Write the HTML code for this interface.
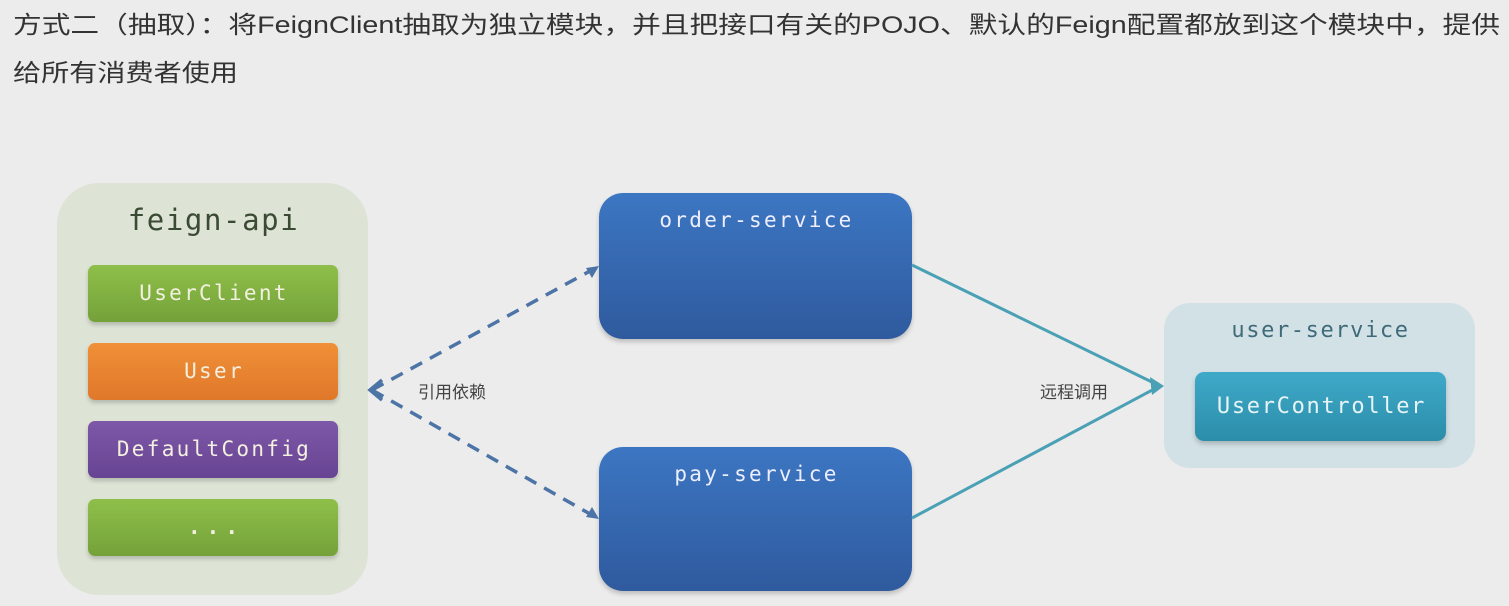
<!DOCTYPE html>
<html><head><meta charset="utf-8"><style>
html,body{margin:0;padding:0;background:#ececec;}
body{width:1509px;height:606px;overflow:hidden;position:relative;font-family:"Liberation Sans","Noto Sans CJK SC",sans-serif;}
.b{position:absolute;box-sizing:border-box;}
.m{font-family:"DejaVu Sans Mono","Liberation Mono",monospace;text-align:center;}
.item{position:absolute;left:88px;width:250px;height:57px;border-radius:7px;color:#f3f0e0;font-size:21px;line-height:57px;letter-spacing:2.3px;padding-left:2px;box-sizing:border-box;box-shadow:0 3px 4px rgba(0,0,0,0.18);}
</style></head><body>
<svg class="b" style="left:0;top:0" width="1509" height="606">
<text x="13" y="33" font-size="24" fill="#333" textLength="1487" lengthAdjust="spacingAndGlyphs" font-family="Liberation Sans, Noto Sans CJK SC, sans-serif">方式二（抽取）：将FeignClient抽取为独立模块，并且把接口有关的POJO、默认的Feign配置都放到这个模块中，提供</text>
<text x="13" y="81" font-size="24" fill="#333" textLength="225" lengthAdjust="spacingAndGlyphs" font-family="Liberation Sans, Noto Sans CJK SC, sans-serif">给所有消费者使用</text>
</svg>
<div class="b" style="left:57px;top:183px;width:311px;height:412px;border-radius:42px;background:#dde3d5;"></div>
<div class="b m" style="left:57px;top:203px;width:311px;font-size:29px;color:#3a4a33;letter-spacing:1.6px;padding-left:2px;">feign-api</div>
<div class="item m" style="top:265px;background:linear-gradient(#8fbf4a,#74a23a);">UserClient</div>
<div class="item m" style="top:343px;background:linear-gradient(#f09038,#e0782a);">User</div>
<div class="item m" style="top:421px;background:linear-gradient(#7e58a8,#674493);">DefaultConfig</div>
<div class="item m" style="top:499px;background:linear-gradient(#8fbf4a,#74a23a);font-weight:bold;letter-spacing:6px;padding-left:6px;">...</div>

<div class="b m" style="left:599px;top:193px;width:313px;height:146px;border-radius:24px;background:linear-gradient(#3c76c2,#2f5a9e);color:#eef;font-size:21px;letter-spacing:2.3px;padding-left:2px;padding-top:15px;box-shadow:0 3px 5px rgba(0,0,0,0.2);">order-service</div>
<div class="b m" style="left:599px;top:447px;width:313px;height:144px;border-radius:24px;background:linear-gradient(#3c76c2,#2f5a9e);color:#eef;font-size:21px;letter-spacing:2.3px;padding-left:2px;padding-top:15px;box-shadow:0 3px 5px rgba(0,0,0,0.2);">pay-service</div>

<div class="b" style="left:1164px;top:303px;width:311px;height:165px;border-radius:26px;background:#d2e1e6;"></div>
<div class="b m" style="left:1164px;top:318px;width:311px;font-size:22px;color:#3f6b79;letter-spacing:1.6px;padding-left:2px;">user-service</div>
<div class="b m" style="left:1195px;top:372px;width:251px;height:69px;border-radius:9px;background:linear-gradient(#3fa9c9,#2b8ea9);color:#e6f4f7;font-size:22px;letter-spacing:1.7px;padding-left:2px;line-height:69px;box-shadow:0 3px 5px rgba(0,0,0,0.2);">UserController</div>

<svg class="b" style="left:0;top:0" width="1509" height="606">
<g stroke="#4d74a6" stroke-width="3.5" stroke-dasharray="13,9" fill="none">
<line x1="372" y1="390" x2="590" y2="271"/>
<line x1="372" y1="390" x2="590" y2="514"/>
</g>
<polyline points="382,380 370,390 382,400" fill="none" stroke="#4d74a6" stroke-width="3.5"/>
<polygon points="599,266 586,268 592,278" fill="#4d74a6"/>
<polygon points="599,519 586,517 592,507" fill="#4d74a6"/>
<g stroke="#4aa0b4" stroke-width="3" fill="none">
<line x1="912" y1="265" x2="1158" y2="385"/>
<line x1="912" y1="518" x2="1158" y2="387"/>
</g>
<polygon points="1164,386 1150,377 1152,395" fill="#4aa0b4"/>
<text x="418" y="398" font-size="17" fill="#444" font-family="Liberation Sans, Noto Sans CJK SC, sans-serif">引用依赖</text>
<text x="1040" y="398" font-size="17" fill="#444" font-family="Liberation Sans, Noto Sans CJK SC, sans-serif">远程调用</text>
</svg>
</body></html>
